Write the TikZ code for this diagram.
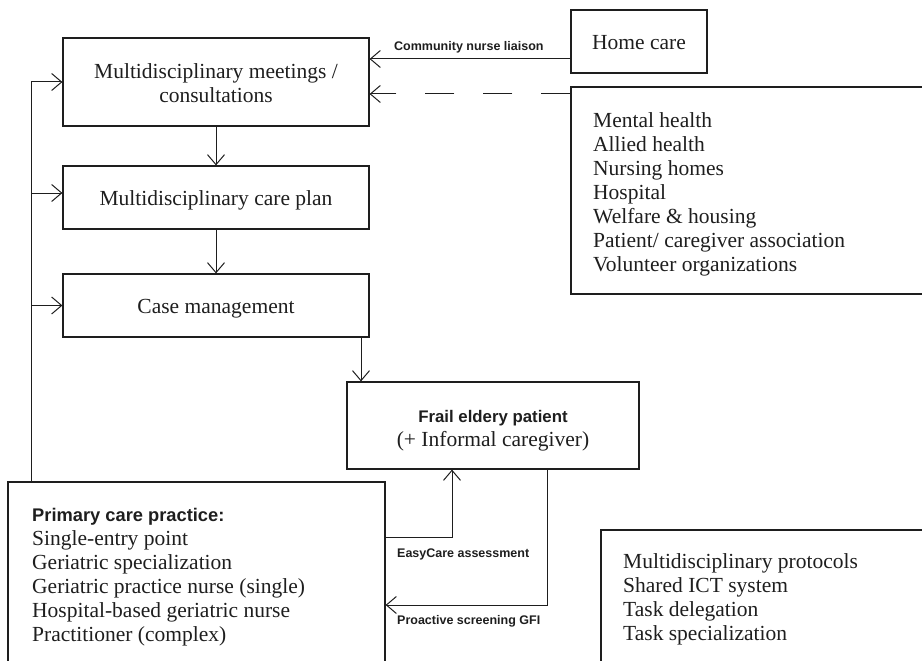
\documentclass[tikz,border=0pt]{standalone}
\usepackage{fontspec}
\setmainfont{Liberation Serif}
\newfontfamily\labelsans{Liberation Sans}
\usetikzlibrary{arrows.meta}

\definecolor{ink}{HTML}{1E1E1E}

% font sizes (1pt = 1 unit of the drawing)
\newcommand\serifsz{\fontsize{21.5}{24}\selectfont}
\newcommand\headsz{\labelsans\bfseries\fontsize{17.5}{24}\selectfont}
\newcommand\tagsz{\labelsans\bfseries\fontsize{12.5}{15}\selectfont}

% stacked lines whose reference point is the first baseline
\newcommand\stackleft[1]{\begin{tabular}[t]{@{}l@{}}#1\end{tabular}}
\newcommand\stackcenter[1]{\begin{tabular}[t]{@{}c@{}}#1\end{tabular}}

\tikzset{
  box/.style={draw=ink, line width=1.2pt, rectangle, inner sep=0pt},
  txt/.style={inner sep=0pt, text=ink, font=\serifsz},
  conn/.style={draw=ink, line width=1pt, -{Straight Barb[length=10pt,width=17pt]}},
  tag/.style={inner sep=0pt, anchor=base west, text=ink, font=\tagsz},
}

\begin{document}
\begin{tikzpicture}[x=1pt, y=-1pt]
\useasboundingbox (0,0) rectangle (922,661);
\clip (0,0) rectangle (922,661);

% ---- boxes ----
\node[box, minimum width=306pt, minimum height=88pt] (A) at (216,82) {};
\node[box, minimum width=306pt, minimum height=63pt] (B) at (216,197.5) {};
\node[box, minimum width=306pt, minimum height=63pt] (C) at (216,305.5) {};
\node[box, minimum width=136pt, minimum height=63pt] (H) at (639,41.5) {};
\node[box, minimum width=389pt, minimum height=207pt] (F) at (765.5,190.5) {};
\node[box, minimum width=292pt, minimum height=87pt] (D) at (493,425.5) {};
\node[box, minimum width=377pt, minimum height=238pt] (E) at (196.5,601) {};
\node[box, minimum width=359pt, minimum height=190pt] (G) at (780.5,625) {};

% ---- texts ----
\node[txt, anchor=base] (atext) at (216,79)
  {\stackcenter{Multidisciplinary meetings /\\consultations}};
\node[txt, anchor=base] (btext) at (216,205) {Multidisciplinary care plan};
\node[txt, anchor=base] (ctext) at (216,313) {Case management};
\node[txt, anchor=base] (htext) at (639,50) {Home care};
\node[txt, anchor=base west] (ftext) at (593,128)
  {\stackleft{Mental health\\Allied health\\Nursing homes\\Hospital\\
   Welfare \& housing\\Patient/ caregiver association\\Volunteer organizations}};
\node[txt, anchor=base] (dtext) at (493,422)
  {\stackcenter{{\labelsans\bfseries\fontsize{16.8}{24}\selectfont Frail eldery patient}\\(+ Informal caregiver)}};
\node[txt, anchor=base west] (etext) at (32,521)
  {\stackleft{{\labelsans\bfseries\fontsize{18.3}{24}\selectfont Primary care practice:}\\Single-entry point\\
   Geriatric specialization\\Geriatric practice nurse (single)\\
   Hospital-based geriatric nurse\\Practitioner (complex)}};
\node[txt, anchor=base west] (gtext) at (623,568)
  {\stackleft{Multidisciplinary protocols\\Shared ICT system\\
   Task delegation\\Task specialization}};

% ---- connector labels ----
\node[tag] (lblcn) at (394,51) {Community nurse liaison};
\node[tag] (lblec) at (397,557) {EasyCare assessment};
\node[tag] (lblps) at (397,624) {Proactive screening GFI};

% ---- routing points ----
\coordinate (cn) at (0,59);
\coordinate (fa) at (0,94);
\coordinate (cd) at (361,0);
\coordinate (lp) at (31,0);
\coordinate (lb) at (31,193);
\coordinate (ec) at (452,537);
\coordinate (ps) at (547,605);

% ---- connectors ----
\draw[conn] (A.south) -- (B.north);
\draw[conn] (B.south) -- (C.north);
\draw[conn] (C.south -| cd) -- (D.north -| cd);
\draw[conn] (H.west |- cn) -- (A.east |- cn);
\draw[conn, dash pattern=on 29pt off 29pt] (F.west |- fa) -- (A.east |- fa);
\draw[conn] (E.north -| lp) |- (A.west);
\draw[conn] (lb) -- (B.west |- lb);
\draw[conn] (lp |- C.west) -- (C.west);
\draw[conn] (E.east |- ec) -| (D.south -| ec);
\draw[conn] (D.south -| ps) |- (E.east |- ps);
\end{tikzpicture}
\end{document}
